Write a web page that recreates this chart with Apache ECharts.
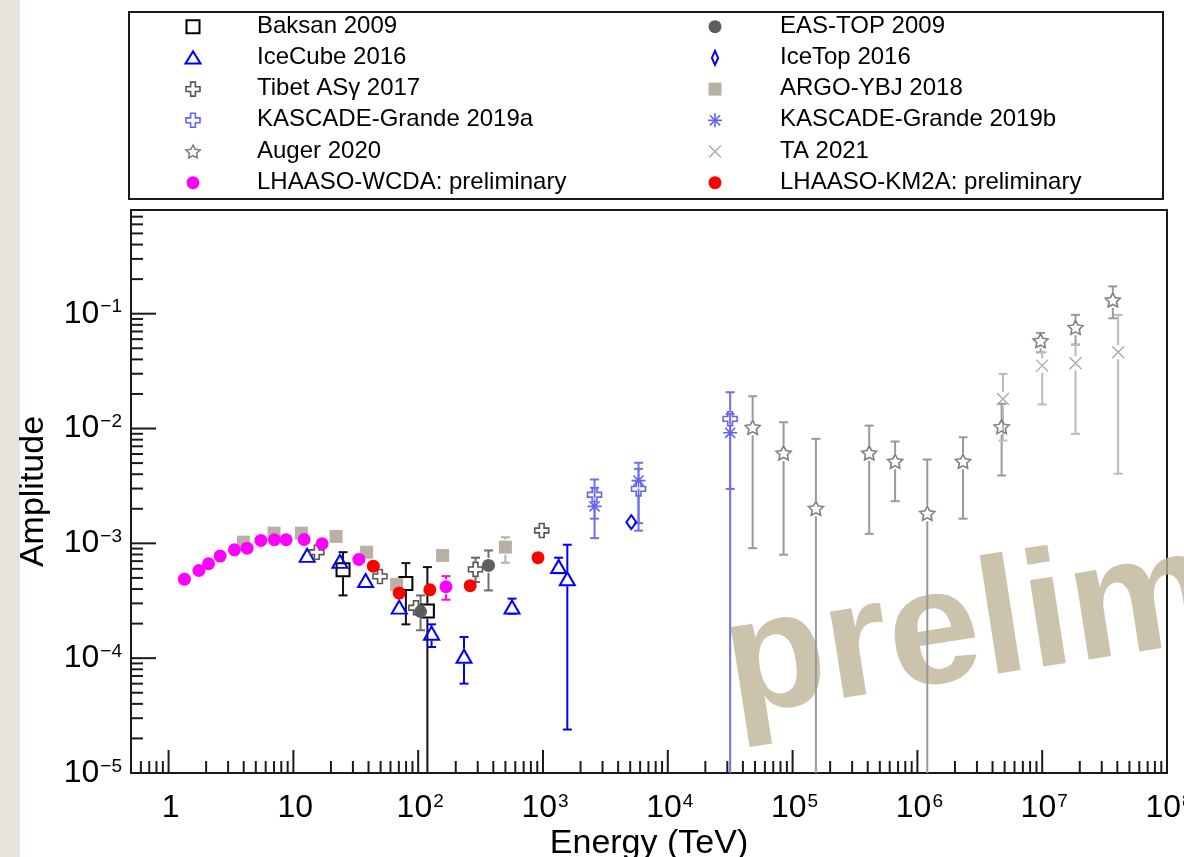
<!DOCTYPE html>
<html><head><meta charset="utf-8">
<script src="https://cdn.jsdelivr.net/npm/echarts@6/dist/echarts.min.js"></script>
<style>html,body{margin:0;padding:0;background:#fff}#c{width:1184px;height:857px}</style>
</head><body><div id="c"></div>
<script>
// ---------------- data ----------------
const baksanE  = [25.0, 79.7, 118.5];
const baksanA  = [5.9e-4, 4.48e-4, 2.57e-4];
const baksanLo = [3.52e-4, 1.97e-4, 1e-6];
const baksanHi = [8.38e-4, 6.73e-4, 6.21e-4];

const easE  = [104.5, 366];
const easA  = [2.55e-4, 6.42e-4];
const easLo = [1.75e-4, 3.89e-4];
const easHi = [3.52e-4, 8.67e-4];

const icecubeE  = [12.9, 23.6, 37.9, 70.5, 128, 233, 565, 1335, 1567];
const icecubeA  = [7.85e-4, 6.96e-4, 4.75e-4, 2.78e-4, 1.65e-4, 1.04e-4, 2.78e-4, 6.29e-4, 4.92e-4];
const icecubeLo = [null, null, null, null, 1.25e-4, 6.0e-5, 2.44e-4, 5.5e-4, 2.39e-5];
const icecubeHi = [null, null, null, null, 1.97e-4, 1.53e-4, 3.3e-4, 7.5e-4, 9.73e-4];

const icetopE = [5100];
const icetopA = [1.53e-3];

const tibetE  = [15.4, 49.4, 95.9, 288, 977];
const tibetA  = [8.37e-4, 5.15e-4, 2.75e-4, 5.93e-4, 1.295e-3];
const tibetLo = [null, null, null, 4.6e-4, null];
const tibetHi = [null, null, null, 7.5e-4, null];

const argoE  = [3.98, 7.0, 11.6, 22.0, 38.6, 67.2, 157, 500];
const argoA  = [1.024e-3, 1.227e-3, 1.227e-3, 1.148e-3, 8.37e-4, 4.38e-4, 7.85e-4, 9.27e-4];
const argoLo = [null, null, null, null, null, null, null, 6.78e-4];
const argoHi = [null, null, null, null, null, null, null, 1.13e-3];

const kgaE  = [2590, 5830, 31600];
const kgaA  = [2.65e-3, 2.98e-3, 1.215e-2];
const kgaLo = [1.64e-3, 1.5e-3, 2.98e-3];
const kgaHi = [3.6e-3, 4.45e-3, 2.07e-2];

const kgbE  = [2590, 5830, 31600];
const kgbA  = [2.1e-3, 3.52e-3, 9.18e-3];
const kgbLo = [1.11e-3, 1.29e-3, 1e-6];
const kgbHi = [3.05e-3, 5.03e-3, 1.34e-2];

const augerE  = [4.786e4, 8.47e4, 1.538e5, 4.11e5, 6.63e5, 1.2e6, 2.32e6, 4.73e6, 9.7e6, 1.85e7, 3.68e7];
const augerA  = [1.026e-2, 6.14e-3, 2.02e-3, 6.14e-3, 5.19e-3, 1.83e-3, 5.19e-3, 1.04e-2, 5.83e-2, 7.61e-2, 0.132];
const augerLo = [9.08e-4, 7.96e-4, 1e-6, 1.21e-3, 2.33e-3, 1e-6, 1.64e-3, 3.9e-3, 4.61e-2, 5.38e-2, 9.12e-2];
const augerHi = [1.91e-2, 1.134e-2, 8.13e-3, 1.06e-2, 7.71e-3, 5.37e-3, 8.39e-3, 1.64e-2, 6.8e-2, 9.77e-2, 0.173];

const taE  = [4.85e6, 1.0e7, 1.85e7, 4.06e7];
const taA  = [1.81e-2, 3.53e-2, 3.7e-2, 4.61e-2];
const taLo = [7.86e-3, 1.62e-2, 9.0e-3, 4.04e-3];
const taHi = [2.99e-2, 4.61e-2, 5.38e-2, 9.77e-2];

const wcdaE  = [1.34, 1.75, 2.09, 2.59, 3.37, 4.26, 5.49, 7.05, 8.74, 12.2, 17.0, 33.5, 167];
const wcdaA  = [4.88e-4, 5.8e-4, 6.64e-4, 7.74e-4, 8.79e-4, 9.08e-4, 1.06e-3, 1.075e-3, 1.075e-3, 1.08e-3, 9.92e-4, 7.24e-4, 4.19e-4];
const wcdaLo = [null, null, null, null, null, null, null, null, null, null, null, null, 3.23e-4];
const wcdaHi = [null, null, null, null, null, null, null, null, null, null, null, null, 5.18e-4];

const km2aE = [43.7, 70.4, 124, 261, 912];
const km2aA = [6.33e-4, 3.69e-4, 3.94e-4, 4.28e-4, 7.5e-4];

// axis ticks / labels
const xMajor = [1, 10, 100, 1e3, 1e4, 1e5, 1e6, 1e7, 1e8];
const xTickLabels = ['1', '10', '10{s|2}', '10{s|3}', '10{s|4}', '10{s|5}', '10{s|6}', '10{s|7}', '10{s|8}'];
const yMajor = [1e-5, 1e-4, 1e-3, 1e-2, 1e-1];
const yTickLabels = ['10{s|\u22125}', '10{s|\u22124}', '10{s|\u22123}', '10{s|\u22122}', '10{s|\u22121}'];
const xRange = [0.5, 1e8];
const yRange = [1e-5, 0.8];
const xTitle = 'Energy (TeV)';
const yTitle = 'Amplitude';

// ---------------- marker shapes ----------------
const FONT = "'Liberation Sans', Arial, Helvetica, sans-serif";
function starPts(r1, r2) {
  const pts = [];
  for (let i = 0; i < 10; i++) {
    const a = -Math.PI / 2 + i * Math.PI / 5, r = i % 2 ? r2 : r1;
    pts.push([r * Math.cos(a), r * Math.sin(a) + 0.1]);
  }
  return pts;
}
const SHAPES = {
  square: {poly: [[-1, -1], [1, -1], [1, 1], [-1, 1]]},
  tri: {poly: [[0, -1], [1, 0.85], [-1, 0.85]]},
  dia: {poly: [[0, -1], [0.62, 0], [0, 1], [-0.62, 0]]},
  cross: {poly: [[-0.34, -1], [0.34, -1], [0.34, -0.34], [1, -0.34], [1, 0.34], [0.34, 0.34], [0.34, 1], [-0.34, 1], [-0.34, 0.34], [-1, 0.34], [-1, -0.34], [-0.34, -0.34]]},
  star: {poly: starPts(1, 0.5)},
  ast: {segs: [[[0, -1], [0, 1]], [[-1, 0], [1, 0]], [[-0.72, -0.72], [0.72, 0.72]], [[0.72, -0.72], [-0.72, 0.72]]]},
  xm: {segs: [[[-1, -1], [1, 1]], [[1, -1], [-1, 1]]]}
};
function toPath(sh) {
  const f = p => p[0].toFixed(3) + ',' + p[1].toFixed(3);
  if (sh.poly) return 'M' + sh.poly.map(f).join(' L') + ' Z';
  return sh.segs.map(s => 'M' + f(s[0]) + ' L' + f(s[1])).join(' ');
}

const sets = [
  {name: 'Baksan 2009', E: baksanE, A: baksanA, lo: baksanLo, hi: baksanHi, m: 'square', s: [13, 13], fill: 'none', stroke: '#000', lw: 2, ec: '#111', col: 0, row: 0},
  {name: 'EAS-TOP 2009', E: easE, A: easA, lo: easLo, hi: easHi, m: 'circle', s: [13, 13], fill: '#5e5e5e', stroke: null, lw: 0, ec: '#6e6e6e', col: 1, row: 0},
  {name: 'IceCube 2016', E: icecubeE, A: icecubeA, lo: icecubeLo, hi: icecubeHi, m: 'tri', s: [15, 13], fill: 'none', stroke: '#0000ff', lw: 2, ec: '#0000ff', col: 0, row: 1},
  {name: 'IceTop 2016', E: icetopE, A: icetopA, lo: null, hi: null, m: 'dia', s: [10, 14], fill: 'none', stroke: '#0000ff', lw: 2, ec: '#0000ff', col: 1, row: 1},
  {name: 'Tibet AS\u03b3 2017', E: tibetE, A: tibetA, lo: tibetLo, hi: tibetHi, m: 'cross', s: [14, 14], fill: 'none', stroke: '#555', lw: 1.6, ec: '#666', col: 0, row: 2},
  {name: 'ARGO-YBJ 2018', E: argoE, A: argoA, lo: argoLo, hi: argoHi, m: 'square', s: [13, 13], fill: '#b9b0a5', stroke: null, lw: 0, ec: '#b9b0a5', col: 1, row: 2},
  {name: 'KASCADE-Grande 2019a', E: kgaE, A: kgaA, lo: kgaLo, hi: kgaHi, m: 'cross', s: [14, 14], fill: 'none', stroke: '#6464ee', lw: 1.6, ec: '#7070ee', col: 0, row: 3},
  {name: 'KASCADE-Grande 2019b', E: kgbE, A: kgbA, lo: kgbLo, hi: kgbHi, m: 'ast', s: [14, 14], fill: 'none', stroke: '#6464ee', lw: 1.6, ec: '#7070ee', col: 1, row: 3},
  {name: 'Auger 2020', E: augerE, A: augerA, lo: augerLo, hi: augerHi, m: 'star', s: [15, 14], fill: 'none', stroke: '#808080', lw: 1.6, ec: '#999', col: 0, row: 4},
  {name: 'TA 2021', E: taE, A: taA, lo: taLo, hi: taHi, m: 'xm', s: [12, 12], fill: 'none', stroke: '#aaa', lw: 1.4, ec: '#bbb', col: 1, row: 4},
  {name: 'LHAASO-WCDA: preliminary', E: wcdaE, A: wcdaA, lo: wcdaLo, hi: wcdaHi, m: 'circle', s: [13, 13], fill: '#ff00ff', stroke: null, lw: 0, ec: '#ff00ff', col: 0, row: 5},
  {name: 'LHAASO-KM2A: preliminary', E: km2aE, A: km2aA, lo: null, hi: null, m: 'circle', s: [13, 13], fill: '#ff0000', stroke: null, lw: 0, ec: '#ff0000', col: 1, row: 5}
];

function errRender(color, gap) {
  return function (params, api) {
    const x = api.value(0), y = api.value(1), lo = api.value(2), hi = api.value(3);
    const cs = params.coordSys, yTop = cs.y, yBot = cs.y + cs.height;
    const c = api.coord([x, y]), t = api.coord([x, hi]), b = api.coord([x, lo]);
    const cap = 4.5, st = {stroke: color, lineWidth: 2}, kids = [];
    const tt = Math.max(t[1], yTop);
    if (c[1] - gap > tt) kids.push({type: 'line', shape: {x1: c[0], y1: c[1] - gap, x2: c[0], y2: tt}, style: st});
    if (t[1] >= yTop) kids.push({type: 'line', shape: {x1: c[0] - cap, y1: t[1], x2: c[0] + cap, y2: t[1]}, style: st});
    const bb = isFinite(b[1]) ? Math.min(b[1], yBot) : yBot;
    if (bb > c[1] + gap) kids.push({type: 'line', shape: {x1: c[0], y1: c[1] + gap, x2: c[0], y2: bb}, style: st});
    if (isFinite(b[1]) && b[1] <= yBot) kids.push({type: 'line', shape: {x1: c[0] - cap, y1: b[1], x2: c[0] + cap, y2: b[1]}, style: st});
    return {type: 'group', children: kids};
  };
}

const series = [];
sets.forEach((d, i) => {
  if (d.lo) {
    const ed = [];
    d.E.forEach((e, k) => { if (d.lo[k] != null && d.hi[k] != null) ed.push([e, d.A[k], d.lo[k], d.hi[k]]); });
    series.push({type: 'custom', name: d.name + ' err', data: ed, renderItem: errRender(d.ec, d.s[1] / 2 + 1),
      encode: {x: 0, y: 1}, z: 2, silent: true, clip: false, animation: false});
  }
  const symbol = d.m === 'circle' ? 'circle' : 'path://' + toPath(SHAPES[d.m]);
  series.push({type: 'scatter', name: d.name, data: d.E.map((e, k) => [e, d.A[k]]), symbol: symbol, symbolSize: d.s,
    itemStyle: {color: d.fill === 'none' ? 'rgba(0,0,0,0)' : d.fill, borderColor: d.stroke || d.fill, borderWidth: d.lw, opacity: 1},
    z: 3, silent: true, animation: false});
});

// axis ticks (drawn through the axes' own scales)
const xTickData = [];
xMajor.forEach((v, k) => xTickData.push([v, yRange[0], 1, k]));
for (let e = -1; e < 8; e++) for (let m = 2; m <= 9; m++) { const v = m * Math.pow(10, e); if (v > xRange[0] && v < xRange[1]) xTickData.push([v, yRange[0], 0, -1]); }
const yTickData = [];
yMajor.forEach((v, k) => yTickData.push([xRange[0], v, 1, k]));
for (let e = -5; e < 0; e++) for (let m = 2; m <= 9; m++) { const v = m * Math.pow(10, e); if (v > yRange[0] && v < yRange[1]) yTickData.push([xRange[0], v, 0, -1]); }
const richSup = {s: {fontSize: 19, fontFamily: FONT, fill: '#000', verticalAlign: 'top', padding: [0, 0, 0, 1]}};
series.push({type: 'custom', name: 'xticks', data: xTickData, encode: {x: 0, y: 1}, silent: true, clip: false, z: 5,
  renderItem: function (params, api) {
    const p = api.coord([api.value(0), api.value(1)]), major = api.value(2) === 1;
    const kids = [{type: 'line', shape: {x1: p[0], y1: p[1], x2: p[0], y2: p[1] - (major ? 23 : 12)}, style: {stroke: '#1a1a1a', lineWidth: 2}}];
    if (major) kids.push({type: 'text', style: {text: xTickLabels[api.value(3)], x: p[0] + 2, y: p[1] + 35, align: 'center', verticalAlign: 'middle', fontSize: 32, fontFamily: FONT, fill: '#000', rich: richSup}});
    return {type: 'group', children: kids};
  }});
series.push({type: 'custom', name: 'yticks', data: yTickData, encode: {x: 0, y: 1}, silent: true, clip: false, z: 5,
  renderItem: function (params, api) {
    const p = api.coord([api.value(0), api.value(1)]), major = api.value(2) === 1;
    const kids = [{type: 'line', shape: {x1: p[0], y1: p[1], x2: p[0] + (major ? 25 : 12), y2: p[1]}, style: {stroke: '#1a1a1a', lineWidth: 2}}];
    if (major) kids.push({type: 'text', style: {text: yTickLabels[api.value(3)], x: p[0] - 9, y: p[1], align: 'right', verticalAlign: 'middle', fontSize: 32, fontFamily: FONT, fill: '#000', rich: richSup}});
    return {type: 'group', children: kids};
  }});

// legend and titles (graphics)
const graphics = [
  {type: 'rect', shape: {x: 0, y: 0, width: 20, height: 857}, style: {fill: '#e7e3dd'}, z: 0, silent: true},
  {type: 'text', x: 726, y: 670, rotation: 0.155, z: 1, silent: true,
   style: {text: 'preliminary', align: 'left', verticalAlign: 'middle', fontSize: 165, fontWeight: 'bold', fontFamily: FONT, fill: 'rgba(190,180,150,0.8)'}},
  {type: 'rect', shape: {x: 129, y: 12, width: 1034, height: 187}, style: {fill: 'none', stroke: '#1a1a1a', lineWidth: 2}, z: 10, silent: true},
  {type: 'text', x: 649, y: 844, z: 10, style: {text: xTitle, align: 'center', verticalAlign: 'middle', fontSize: 34, fontFamily: FONT, fill: '#000'}},
  {type: 'text', x: 34, y: 491.5, rotation: Math.PI / 2, z: 10, style: {text: yTitle, align: 'center', verticalAlign: 'middle', fontSize: 34, fontFamily: FONT, fill: '#000'}}
];
const legMarkX = [193, 715], legTextX = [257, 780];
sets.forEach(d => {
  const cx = legMarkX[d.col], cy = 26.7 + 31.2 * d.row, hw = d.s[0] / 2, hh = d.s[1] / 2;
  const tr = p => [cx + p[0] * hw, cy + p[1] * hh];
  const sty = {fill: d.fill === 'none' ? 'rgba(0,0,0,0)' : d.fill, stroke: d.stroke || d.fill, lineWidth: d.lw || 0};
  if (d.m === 'circle') {
    graphics.push({type: 'circle', shape: {cx: cx, cy: cy, r: hw}, style: {fill: d.fill}, z: 10});
  } else if (SHAPES[d.m].poly) {
    graphics.push({type: 'polygon', shape: {points: SHAPES[d.m].poly.map(tr)}, style: sty, z: 10});
  } else {
    SHAPES[d.m].segs.forEach(sg => {
      const a = tr(sg[0]), b = tr(sg[1]);
      graphics.push({type: 'line', shape: {x1: a[0], y1: a[1], x2: b[0], y2: b[1]}, style: {stroke: d.stroke, lineWidth: d.lw}, z: 10});
    });
  }
  graphics.push({type: 'text', x: legTextX[d.col], y: cy - 0.5, z: 10, style: {text: d.name, align: 'left', verticalAlign: 'middle', fontSize: 24, fontFamily: FONT, fill: '#000'}});
});

const chart = echarts.init(document.getElementById('c'), null, {renderer: 'canvas'});
chart.setOption({
  animation: false,
  backgroundColor: '#fff',
  grid: {left: 131, top: 210, width: 1036, height: 563, show: true, borderColor: '#1a1a1a', borderWidth: 2, backgroundColor: 'rgba(0,0,0,0)'},
  xAxis: {type: 'log', logBase: 10, min: xRange[0], max: xRange[1], show: false},
  yAxis: {type: 'log', logBase: 10, min: yRange[0], max: yRange[1], show: false},
  series: series,
  graphic: {elements: graphics}
});
</script></body></html>
